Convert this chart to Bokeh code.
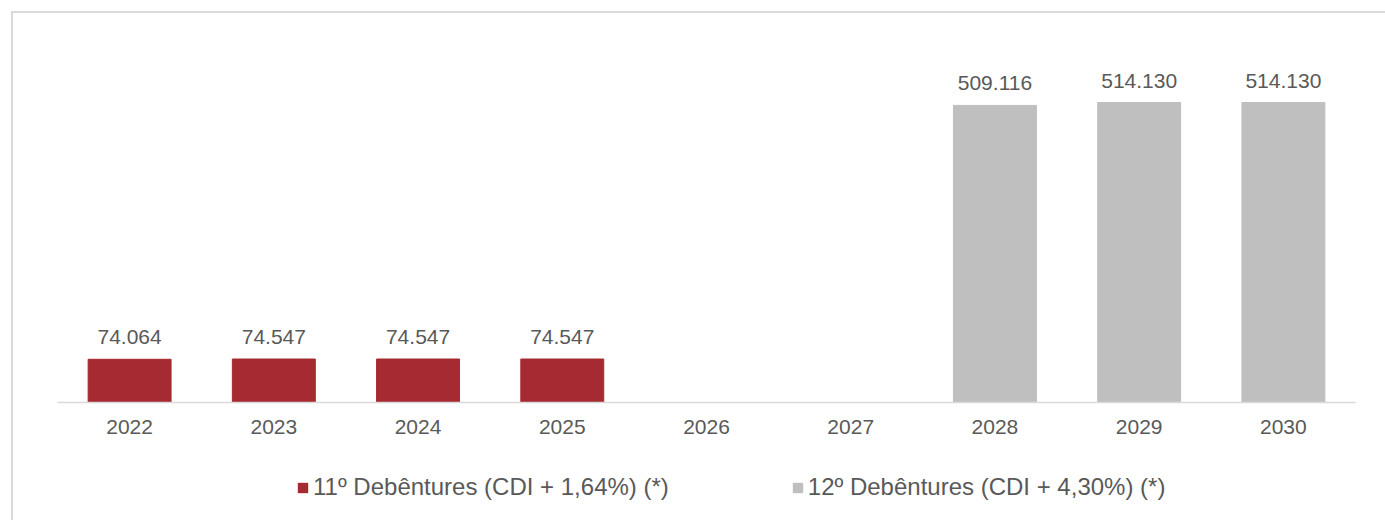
from bokeh.plotting import figure
from bokeh.layouts import column
from bokeh.models import ColumnDataSource, FactorRange, Range1d, LabelSet, Legend, LegendItem
from bokeh.core.properties import value
from bokeh.embed import file_html
from bokeh.resources import INLINE

years = ["2022", "2023", "2024", "2025", "2026", "2027", "2028", "2029", "2030"]
s11_years = ["2022", "2023", "2024", "2025"]
s11_values = [74064, 74547, 74547, 74547]
s12_years = ["2028", "2029", "2030"]
s12_values = [509116, 514130, 514130]
s11_name = "11º Debêntures (CDI + 1,64%) (*)"
s12_name = "12º Debêntures (CDI + 4,30%) (*)"

RED = "#A52A31"
GRAY = "#BFBFBF"
TXT = "#595959"
FONT = "Liberation Sans"
LINE = "#D9D9D9"


def fmt(v):
    return f"{v:,}".replace(",", ".")


src11 = ColumnDataSource(dict(x=s11_years, top=s11_values, label=[fmt(v) for v in s11_values]))
src12 = ColumnDataSource(dict(x=s12_years, top=s12_values, label=[fmt(v) for v in s12_values]))

xr = FactorRange(*years, range_padding=0)

p = figure(
    width=1385, height=455,
    x_range=xr,
    y_range=Range1d(0, 654660),
    output_backend="svg", toolbar_location=None,
    y_axis_location=None,
    min_border_left=57, min_border_right=30, min_border_top=20, min_border_bottom=53,
)
p.outline_line_color = None
p.border_fill_color = None
p.background_fill_color = None
p.xgrid.grid_line_color = None
p.ygrid.grid_line_color = None
p.styles = {
    "background-color": "white",
    "background-image": f"linear-gradient({LINE},{LINE}), linear-gradient({LINE},{LINE})",
    "background-size": "2px 100%, 100% 2px",
    "background-position": "11px 11px, 11px 11px",
    "background-repeat": "no-repeat",
}

p.vbar(x="x", top="top", width=0.575, source=src11, fill_color=RED, line_color=RED)
p.vbar(x="x", top="top", width=0.575, source=src12, fill_color=GRAY, line_color=GRAY)

for src in (src11, src12):
    lbl = LabelSet(x="x", y="top", text="label", source=src, y_offset=22,
                   text_align="center", text_baseline="middle",
                   text_font=value(FONT), text_font_size=value("21px"), text_color=TXT)
    p.add_layout(lbl)

ax = p.xaxis[0]
ax.axis_line_color = LINE
ax.axis_line_width = 1.5
ax.major_tick_line_color = None
ax.minor_tick_line_color = None
ax.major_label_text_font = FONT
ax.major_label_text_font_size = "21px"
ax.major_label_text_color = TXT
ax.major_label_standoff = 11

# legend strip (same series, hidden renderers; only the legend shows)
q = figure(
    width=1385, height=65, x_range=xr, y_range=Range1d(-2000000, -1000000),
    output_backend="svg", toolbar_location=None,
    x_axis_location=None, y_axis_location=None, min_border=0,
)
q.outline_line_color = None
q.border_fill_color = None
q.background_fill_color = None
q.xgrid.grid_line_color = None
q.ygrid.grid_line_color = None
q.styles = {
    "background-color": "white",
    "background-image": f"linear-gradient({LINE},{LINE})",
    "background-size": "2px 100%",
    "background-position": "11px 0px",
    "background-repeat": "no-repeat",
}
g11 = q.vbar(x="x", top="top", width=0.575, source=src11, fill_color=RED, line_color=None)
g12 = q.vbar(x="x", top="top", width=0.575, source=src12, fill_color=GRAY, line_color=None)
g11.visible = False
g12.visible = False

legend = Legend(
    items=[LegendItem(label=s11_name, renderers=[g11]),
           LegendItem(label=s12_name, renderers=[g12])],
    orientation="horizontal",
    location=(239, 19),
    glyph_width=13, glyph_height=13, label_standoff=4, spacing=122,
    padding=0, margin=0, border_line_color=None, background_fill_alpha=0,
    inactive_fill_alpha=0,
    label_text_font=FONT, label_text_font_size="24px", label_text_color=TXT,
)
q.add_layout(legend, "center")

layout = column(p, q, spacing=0)
open("out.html", "w").write(file_html(layout, INLINE))
